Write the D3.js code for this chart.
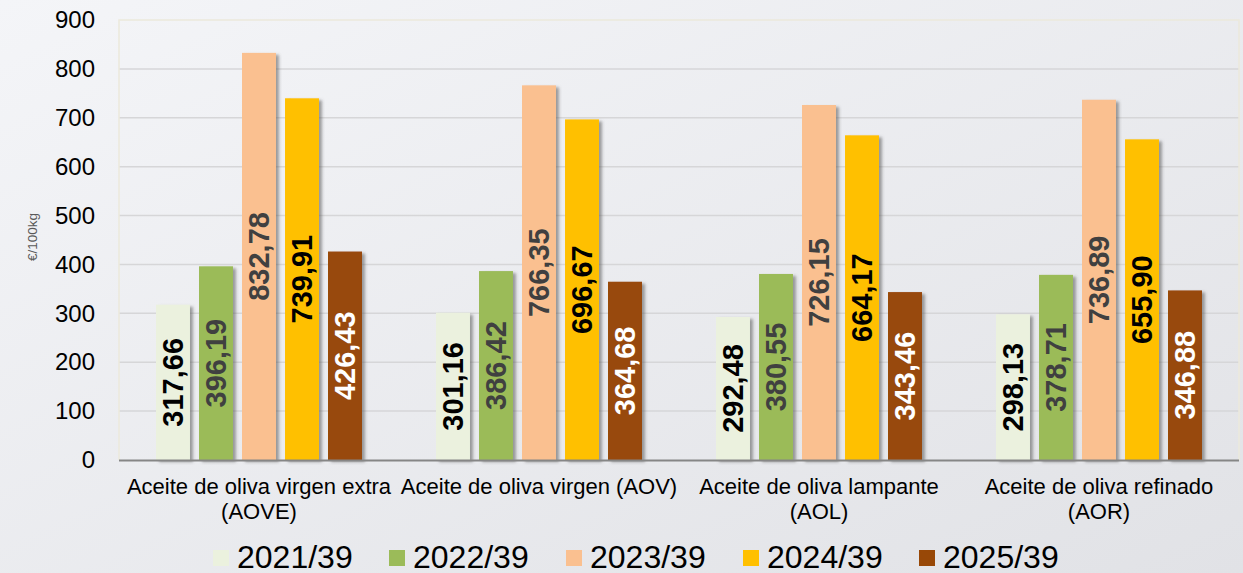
<!DOCTYPE html>
<html><head><meta charset="utf-8">
<script src="https://cdn.jsdelivr.net/npm/d3@7"></script>
<style>html,body{margin:0;padding:0;overflow:hidden;}svg{display:block;font-family:"Liberation Sans",Arial,sans-serif;}</style>
</head><body>
<svg id="c" width="1243" height="573"></svg>
<script>
const categories = [["Aceite de oliva virgen extra","(AOVE)"],["Aceite de oliva virgen (AOV)"],["Aceite de oliva lampante","(AOL)"],["Aceite de oliva refinado","(AOR)"]];
const seriesNames = ["2021/39","2022/39","2023/39","2024/39","2025/39"];
const v2021 = [317.66, 301.16, 292.48, 298.13];
const v2022 = [396.19, 386.42, 380.55, 378.71];
const v2023 = [832.78, 766.35, 726.15, 736.89];
const v2024 = [739.91, 696.67, 664.17, 655.90];
const v2025 = [426.43, 364.68, 343.46, 346.88];
const yTicks = [0,100,200,300,400,500,600,700,800,900];
const colors = ["#EBF1DE","#9BBB59","#FAC090","#FFC000","#984807"];
const labelColors = ["#000000","#404040","#404040","#000000","#ffffff"];
const series = [v2021,v2022,v2023,v2024,v2025];

const svg = d3.select("#c");
const defs = svg.append("defs");
const g = defs.append("linearGradient").attr("id","bg").attr("x1","0").attr("y1","0").attr("x2","1").attr("y2","1");
g.append("stop").attr("offset","0").attr("stop-color","#f4f5f8");
g.append("stop").attr("offset","1").attr("stop-color","#e1e2e6");
const f = defs.append("filter").attr("id","sh").attr("x","-20%").attr("y","-10%").attr("width","150%").attr("height","120%");
f.append("feDropShadow").attr("dx",3).attr("dy",2).attr("stdDeviation",1.8).attr("flood-color","#555").attr("flood-opacity",0.55);
svg.append("rect").attr("width",1243).attr("height",573).attr("fill","url(#bg)");

const L=119, R=1239, T=20, B=460;
const x0 = d3.scaleBand().domain(categories.map((d,i)=>i)).range([L,R]).padding(0);
const x1 = d3.scaleBand().domain(seriesNames).range([37, 243]).paddingInner(0.21).paddingOuter(0);
const y = d3.scaleLinear().domain([0,900]).range([B,T]);

// gridlines
svg.append("g").selectAll("line").data(yTicks.filter(t=>t>0&&t<900)).join("line")
  .attr("x1",L).attr("x2",R).attr("y1",d=>y(d)).attr("y2",d=>y(d))
  .attr("stroke","#d6d6d8").attr("stroke-width",1.5);
// border
svg.append("path").attr("d",`M${L},${B}V${T}H${R}V${B}`).attr("fill","none").attr("stroke","#ece9dc").attr("stroke-width",1.5);

// y axis
const ya = svg.append("g").attr("transform",`translate(${L},0)`).call(d3.axisLeft(y).tickValues(yTicks).tickSize(0).tickPadding(24));
ya.select(".domain").remove();
ya.selectAll("text").attr("font-size",24).attr("fill","#000").attr("font-family","Liberation Sans, Arial, sans-serif");

svg.append("text").attr("transform","translate(37,237) rotate(-90)").attr("text-anchor","middle")
  .attr("font-size",13.5).attr("fill","#595959").text("€/100kg");

// bars
const groups = svg.append("g").selectAll("g").data(categories).join("g")
  .attr("transform",(d,i)=>`translate(${x0(i)},0)`);
seriesNames.forEach((s,si)=>{
  groups.append("rect").attr("x",x1(s)).attr("width",x1.bandwidth())
    .attr("y",(d,i)=>y(series[si][i])).attr("height",(d,i)=>B-y(series[si][i]))
    .attr("fill",colors[si]).attr("filter","url(#sh)");
});
seriesNames.forEach((s,si)=>{
  groups.append("text")
    .attr("transform",(d,i)=>`translate(${x1(s)+x1.bandwidth()/2},${(y(series[si][i])+B)/2}) rotate(-90)`)
    .attr("text-anchor","middle").attr("dy","0.36em")
    .attr("font-size",29).attr("font-weight","bold").attr("fill",labelColors[si])
    .text((d,i)=>series[si][i].toFixed(2).replace(".",","));
});

// x axis line
svg.append("line").attr("x1",L).attr("x2",R).attr("y1",B+0.5).attr("y2",B+0.5).attr("stroke","#868686").attr("stroke-width",2);
// category labels
groups.each(function(d,i){
  const t = d3.select(this).append("text").attr("text-anchor","middle").attr("font-size",22).attr("fill","#000");
  d.forEach((line,li)=>t.append("tspan").attr("x",x0.bandwidth()/2).attr("y",494+li*25).text(line));
});

// legend
const legX = [213,389,566,743,919];
const leg = svg.append("g").selectAll("g").data(seriesNames).join("g").attr("transform",(d,i)=>`translate(${legX[i]},0)`);
leg.append("rect").attr("x",0).attr("y",550).attr("width",16).attr("height",16).attr("fill",(d,i)=>colors[i]);
leg.append("text").attr("x",24).attr("y",567.5).attr("font-size",32).attr("fill","#000").text(d=>d);
</script>
</body></html>
